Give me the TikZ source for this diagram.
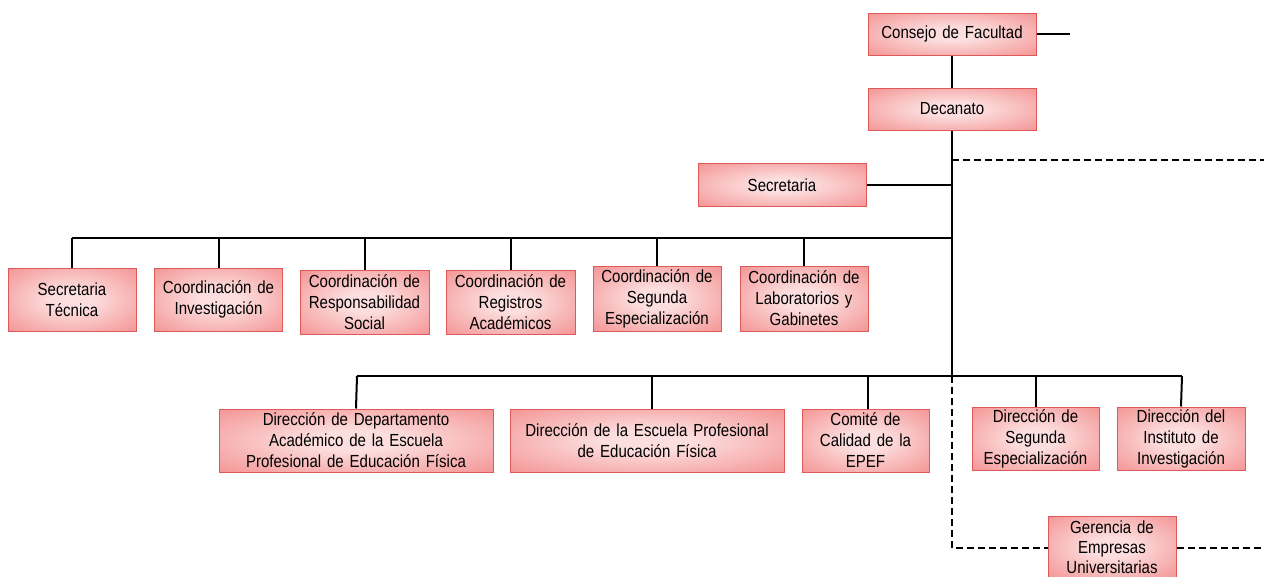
\documentclass[tikz,border=0pt]{standalone}
\usepackage{fontspec}
\setmainfont{Liberation Sans}[FakeStretch=0.86]
\definecolor{pinkin}{RGB}{252,222,222}
\definecolor{pinkmid}{RGB}{245,158,158}
\definecolor{pinkout}{RGB}{235,110,110}
\definecolor{boxline}{RGB}{222,90,90}
\pgfdeclareradialshading{boxshade}{\pgfpoint{0bp}{0bp}}{color(0bp)=(pinkin); color(8bp)=(pinkin); color(32bp)=(pinkmid); color(50bp)=(pinkout); color(72bp)=(pinkout)}
\tikzset{
  orgbox/.style={draw=boxline, line width=1pt, shading=boxshade, inner sep=0pt,
    align=center, font=\fontsize{17.5}{21}\selectfont},
  wconn/.style={line width=2pt, black},
  dconn/.style={line width=2pt, black, dash pattern=on 7pt off 4pt},
}
\begin{document}
\begin{tikzpicture}[x=1pt,y=-1pt]
\useasboundingbox (0,0) rectangle (1264,576);
% top
\node[orgbox, minimum width=168, minimum height=42, text width=164] (cf) at (952,34) {Consejo de Facultad};
\node[orgbox, minimum width=168, minimum height=42, text width=164] (dec) at (952,109) {Decanato};
\node[orgbox, minimum width=168, minimum height=43, text width=164] (sec) at (782,185) {Secretaria};
% row 1
\node[orgbox, minimum width=128, minimum height=63, text width=126] (st) at (72,299.5) {Secretaria\\Técnica};
\node[orgbox, minimum width=128, minimum height=63, text width=126] (ci) at (218.5,299.5) {Coordinación de\\Investigación};
\node[orgbox, minimum width=129, minimum height=64, text width=127] (crs) at (364.5,302) {Coordinación de\\Responsabilidad\\Social};
\node[orgbox, minimum width=129, minimum height=64, text width=127] (cra) at (510.5,302) {Coordinación de\\Registros\\Académicos};
\node[orgbox, minimum width=128, minimum height=65, text width=126] (cse) at (657,298.5) {Coordinación de\\Segunda\\Especialización};
\node[orgbox, minimum width=128, minimum height=65, text width=126] (clg) at (804,298.5) {Coordinación de\\Laboratorios y\\Gabinetes};
% row 2
\node[orgbox, minimum width=274, minimum height=63, text width=270] (ddep) at (356,440.5) {Dirección de Departamento\\Académico de la Escuela\\Profesional de Educación Física};
\node[orgbox, minimum width=274, minimum height=63, text width=270] (desc) at (647,440.5) {Dirección de la Escuela Profesional\\de Educación Física};
\node[orgbox, minimum width=127, minimum height=63, text width=125] (com) at (865.5,440.5) {Comité de\\Calidad de la\\EPEF};
\node[orgbox, minimum width=127, minimum height=63, text width=125] (dse) at (1035.5,438.5) {Dirección de\\Segunda\\Especialización};
\node[orgbox, minimum width=128, minimum height=63, text width=126] (dii) at (1181,438.5) {Dirección del\\Instituto de\\Investigación};
\node[orgbox, minimum width=128, minimum height=62, text width=126, font=\fontsize{17.5}{20}\selectfont] (geu) at (1112,547) {Gerencia de\\Empresas\\Universitarias};
% coordinates
\coordinate (cfr) at (1070,34);
\coordinate (t1) at (952,160);
\coordinate (dr) at (1264,160);
\coordinate (t2) at (952,185);
\coordinate (b1r) at (952,238);
\coordinate (b1l) at (72,238);
\coordinate (b2c) at (952,376);
\coordinate (b2l) at (357,376);
\coordinate (b2r) at (1182,376);
\coordinate (dl) at (952,548);
\coordinate (dr2) at (1264,548);
\coordinate (desctop) at (652,376);
\coordinate (comtop) at (868,376);
% solid connectors
\draw[wconn] (cf.east) -- (cfr);
\draw[wconn] (cf.south) -- (dec.north);
\draw[wconn] (dec.south) -- (b2c);
\draw[wconn] (sec.east) -- (t2);
\draw[wconn] (b1l) -- (b1r);
\draw[wconn] (b1l) -- (st.north);
\foreach \n in {ci,crs,cra,cse,clg} \draw[wconn] (\n.north) -- (\n.north |- b1r);
\draw[wconn] (b2l) -- (b2r);
\draw[wconn] (b2l) -- (ddep.north);
\draw[wconn] (desctop) -- (desctop |- desc.north);
\draw[wconn] (comtop) -- (comtop |- com.north);
\draw[wconn] (dse.north) -- (dse.north |- b2c);
\draw[wconn] (b2r) -- (dii.north);
% dashed connectors
\draw[dconn] (t1) -- (dr);
\draw[dconn] (b2c) -- (dl) -- (geu.west |- dl);
\draw[dconn] (geu.east |- dr2) -- (dr2);
\end{tikzpicture}
\end{document}
